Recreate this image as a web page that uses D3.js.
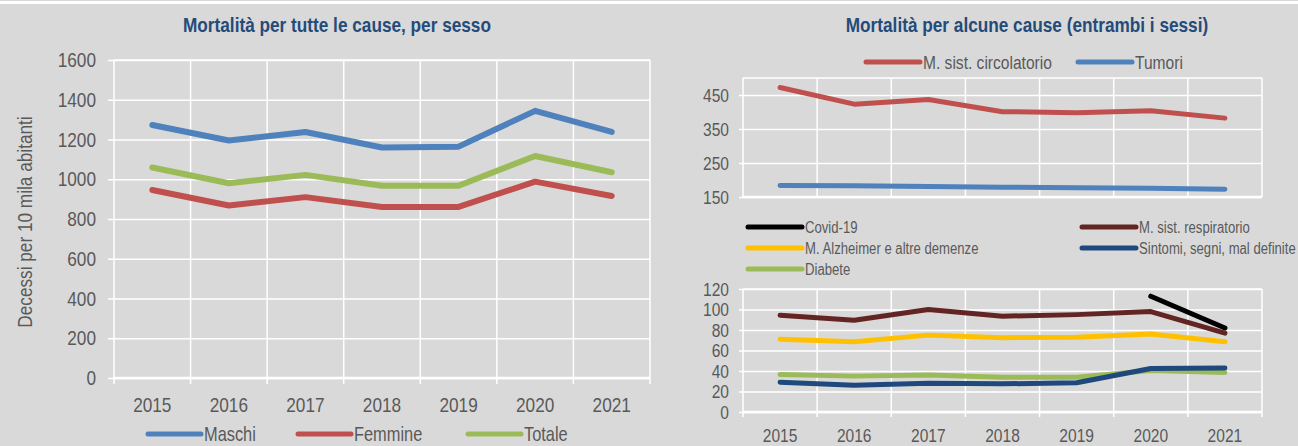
<meta charset="utf-8">
<style>
    body { margin: 0; background: #d9d9d9; }
    svg { display: block; }
    text { font-family: "Liberation Sans", Arial, sans-serif; fill: #595959; }
    .title { font-weight: bold; fill: #244b7a; }
</style>
<body>
<script src="https://cdn.jsdelivr.net/npm/d3@7"></script>
<script>

    const years = [2015, 2016, 2017, 2018, 2019, 2020, 2021];

    // left panel: all causes by sex
    const maschi  = [1273, 1195, 1238, 1160, 1164, 1344, 1238];
    const femmine = [946, 868, 910, 860, 861, 988, 916];
    const totale  = [1059, 980, 1022, 967, 967, 1117, 1035];
    const leftTicks = [0, 200, 400, 600, 800, 1000, 1200, 1400, 1600];

    // right panel, top
    const circolatorio = [472, 423, 437, 401, 398, 404, 382];
    const tumori       = [184, 183, 181, 179, 177, 176, 173];
    const topTicks = [150, 250, 350, 450];

    // right panel, bottom
    const covid        = [null, null, null, null, null, 113, 82];
    const respiratorio = [94.5, 89.5, 100, 93.5, 95, 98, 77];
    const alzheimer    = [71, 68.5, 75, 72.5, 73, 76, 68.5];
    const sintomi      = [29, 26, 28, 27.5, 28.5, 42.5, 43];
    const diabete      = [36.5, 35, 36, 34, 34, 40.5, 38.5];
    const bottomTicks = [0, 20, 40, 60, 80, 100, 120];

    const W = 1298, H = 446;
    const K = 0.82;   // horizontal squeeze, no narrow font installed

    let svg = d3.select("body").append("svg")
        .attr("width", W)
        .attr("height", H);

    svg.append("rect").attr("width", W).attr("height", H).attr("fill", "#d9d9d9");
    svg.append("rect").attr("x", 0).attr("y", 1).attr("width", W).attr("height", 3).attr("fill", "#ffffff");

    // text squeezed horizontally around its own anchor
    function ntext(g, x, y, size, str) {
        return g.append("text")
            .attr("x", x / K)
            .attr("y", y)
            .attr("transform", "scale(" + K + ",1)")
            .style("font-size", size + "px")
            .text(str);
    }

    function drawLine(g, x, y, values, color, w) {
        let line = d3.line()
            .defined(function (d) { return d != null; })
            .x(function (d, i) { return x(years[i]) + x.bandwidth() / 2; })
            .y(function (d) { return y(d); });
        g.append("path")
            .datum(values)
            .attr("d", line)
            .attr("fill", "none")
            .attr("stroke", color)
            .attr("stroke-width", w)
            .attr("stroke-linejoin", "round")
            .attr("stroke-linecap", "round");
    }

    function grid(g, x, y, ticks, tickLen, labelSize, pad, xLabels, xLabelY, xTickLen) {
        let x0 = x.range()[0], x1 = x.range()[1];
        let y0 = y.range()[0], y1 = y.range()[1];

        // vertical lines on band boundaries
        let bounds = years.map(function (d) { return x(d); }).concat([x1]);
        g.selectAll(null).data(bounds).enter().append("line")
            .attr("x1", function (d) { return d; })
            .attr("x2", function (d) { return d; })
            .attr("y1", y1)
            .attr("y2", y0 + xTickLen)
            .attr("stroke", "#ffffff")
            .attr("stroke-width", 1.5);

        let ax = g.append("g")
            .attr("transform", "translate(" + x0 + ",0)")
            .call(d3.axisLeft(y).tickValues(ticks).tickFormat(d3.format("d"))
                .tickSizeInner(-(x1 - x0)).tickSizeOuter(0).tickPadding(pad));
        ax.select(".domain").remove();
        ax.selectAll(".tick line").attr("x1", -tickLen).attr("stroke", "#ffffff").attr("stroke-width", 1.5);
        ax.selectAll(".tick text")
            .style("font-size", labelSize + "px")
            .attr("fill", "#595959")
            .attr("x", -(pad + tickLen) / K)
            .attr("transform", "scale(" + K + ",1)");

        g.append("line").attr("x1", x0).attr("x2", x1).attr("y1", y1).attr("y2", y1)
            .attr("stroke", "#ffffff").attr("stroke-width", 1.5);
        g.append("line").attr("x1", x0).attr("x2", x1).attr("y1", y0).attr("y2", y0)
            .attr("stroke", "#ffffff").attr("stroke-width", 2.5);

        if (xLabels) {
            let bx = g.append("g")
                .attr("transform", "translate(0," + xLabelY + ")")
                .call(d3.axisBottom(x).tickSize(0).tickPadding(0));
            bx.select(".domain").remove();
            bx.selectAll(".tick text")
                .style("font-size", labelSize + "px")
                .attr("fill", "#595959")
                .attr("dy", "0.35em")
                .attr("transform", "scale(" + K + ",1)");
        }
    }

    function legend(g, items, lineLen, size) {
        items.forEach(function (it) {
            g.append("line")
                .attr("x1", it.x).attr("x2", it.x + lineLen)
                .attr("y1", it.y).attr("y2", it.y)
                .attr("stroke", it.color)
                .attr("stroke-width", 5)
                .attr("stroke-linecap", "round");
            ntext(g, it.x + lineLen + 3, it.y, size, it.name).attr("dy", "0.35em");
        });
    }

    // ---------- left panel ----------
    let gL = svg.append("g");
    let xL = d3.scaleBand().domain(years).range([114, 650]);
    let yL = d3.scaleLinear().domain([0, 1600]).range([378, 60]);

    ntext(gL, 337, 32, 21, "Mortalità per tutte le cause, per sesso")
        .attr("class", "title").attr("text-anchor", "middle");

    grid(gL, xL, yL, leftTicks, 6, 21, 12, true, 405, 6);

    gL.append("text")
        .attr("transform", "translate(25,222) rotate(-90) scale(" + K + ",1)")
        .attr("text-anchor", "middle")
        .attr("dy", "0.35em")
        .style("font-size", "21px")
        .text("Decessi per 10 mila abitanti");

    drawLine(gL, xL, yL, maschi, "#4f81bd", 6);
    drawLine(gL, xL, yL, femmine, "#c0504d", 6);
    drawLine(gL, xL, yL, totale, "#9bbb59", 6);

    legend(gL, [
        {name: "Maschi", color: "#4f81bd", x: 148, y: 434},
        {name: "Femmine", color: "#c0504d", x: 298, y: 434},
        {name: "Totale", color: "#9bbb59", x: 468, y: 434}
    ], 53, 20);

    // ---------- right panel, top ----------
    let gR = svg.append("g");
    let xR = d3.scaleBand().domain(years).range([743, 1262]);
    let yRT = d3.scaleLinear().domain([150, 500]).range([197, 78]);

    ntext(gR, 1027, 32, 21, "Mortalità per alcune cause (entrambi i sessi)")
        .attr("class", "title").attr("text-anchor", "middle");

    legend(gR, [
        {name: "M. sist. circolatorio", color: "#c0504d", x: 866, y: 62},
        {name: "Tumori", color: "#4f81bd", x: 1078, y: 62}
    ], 54, 19);

    grid(gR, xR, yRT, topTicks, 4, 19, 10, false, 0, 0);
    drawLine(gR, xR, yRT, circolatorio, "#c0504d", 5);
    drawLine(gR, xR, yRT, tumori, "#4f81bd", 5);

    // ---------- right panel, bottom ----------
    let yRB = d3.scaleLinear().domain([0, 120]).range([412, 289]);

    legend(gR, [
        {name: "Covid-19", color: "#000000", x: 748, y: 227},
        {name: "M. Alzheimer e altre demenze", color: "#ffc000", x: 748, y: 248},
        {name: "Diabete", color: "#9bbb59", x: 748, y: 269},
        {name: "M. sist. respiratorio", color: "#632523", x: 1082, y: 227},
        {name: "Sintomi, segni, mal definite", color: "#1f497d", x: 1082, y: 248}
    ], 54, 16);

    grid(gR, xR, yRB, bottomTicks, 4, 19, 10, true, 435, 5);
    drawLine(gR, xR, yRB, respiratorio, "#632523", 5);
    drawLine(gR, xR, yRB, alzheimer, "#ffc000", 5);
    drawLine(gR, xR, yRB, covid, "#000000", 5);
    drawLine(gR, xR, yRB, diabete, "#9bbb59", 5);
    drawLine(gR, xR, yRB, sintomi, "#1f497d", 5);

</script>
